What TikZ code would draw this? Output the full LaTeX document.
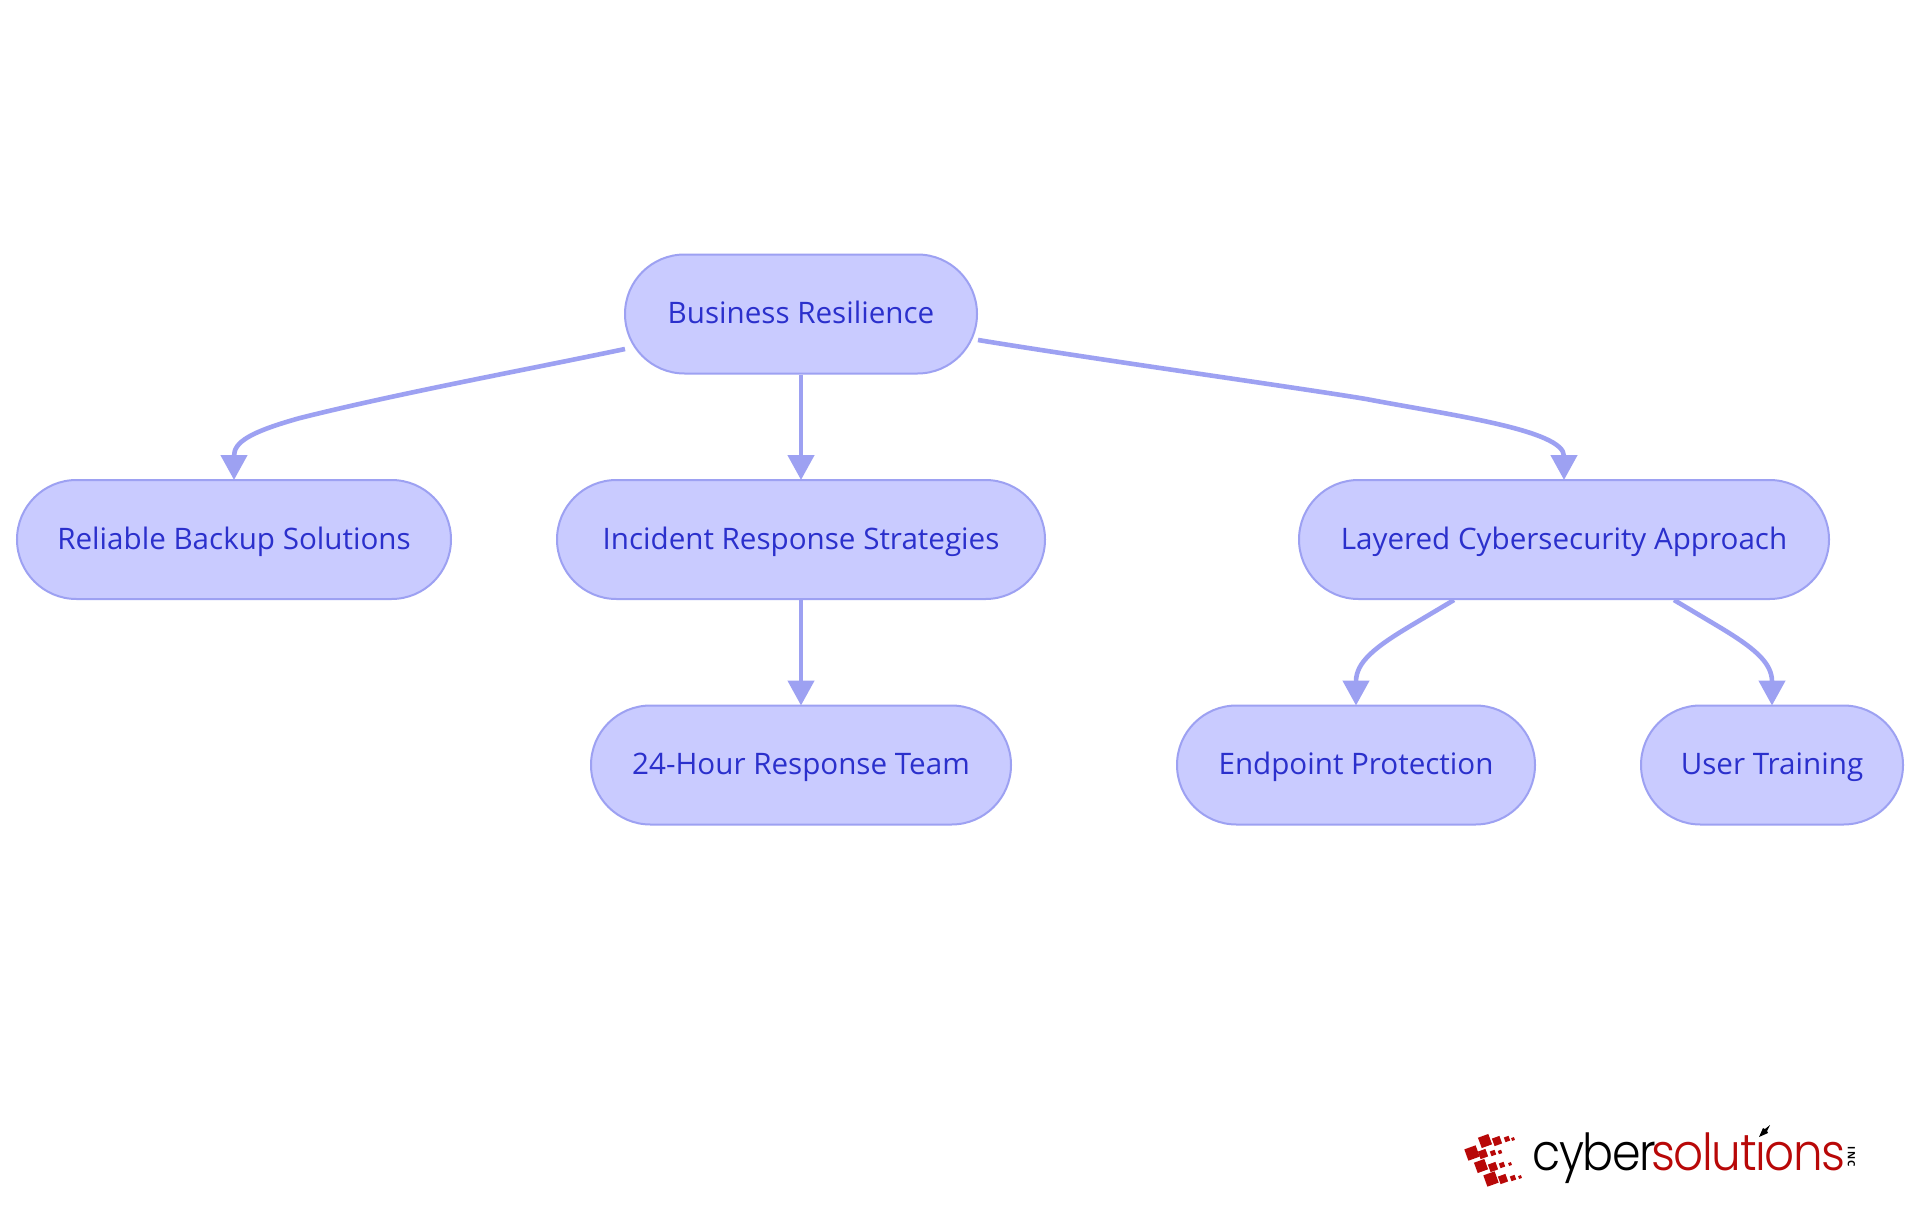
\documentclass[tikz,border=0pt]{standalone}
\usepackage{fontspec}
\usepackage{graphicx}
\setmainfont{Open Sans}
\newfontfamily\logofont{Poppins Light}
\usetikzlibrary{shapes.misc,arrows.meta,calc}
\definecolor{nodefill}{HTML}{C9CBFF}
\definecolor{nodeline}{HTML}{9DA1F2}
\definecolor{nodetext}{HTML}{2B30CC}
\definecolor{logored}{HTML}{B80808}
\tikzset{
  pill/.style={rounded rectangle,rounded rectangle arc length=180,draw=nodeline,fill=nodefill,line width=2pt,
    minimum height=119pt,inner sep=0pt,text=nodetext,font=\fontsize{29.6}{32}\selectfont,anchor=center,
    text height=26pt,text depth=7pt},
  link/.style={draw=nodeline,line width=4.6pt,shorten >=-1pt,-{Triangle[length=25pt,width=26pt,fill=nodeline]}},
  chip/.style={fill=logored,draw=none,rotate=20,inner sep=0pt,anchor=center},
  logotext/.style={anchor=base west,inner sep=0pt},
}
\begin{document}
\begin{tikzpicture}[x=1pt,y=-1pt]
\useasboundingbox (0,0) rectangle (1920,1215);
\fill[white] (0,0) rectangle (1920,1215);
\node[pill,minimum width=352pt] (biz) at (801,314) {Business Resilience};
\node[pill,minimum width=434pt] (rel) at (234,539.5) {Reliable Backup Solutions};
\node[pill,minimum width=488pt] (inc) at (801,539.5) {Incident Response Strategies};
\node[pill,minimum width=530pt] (lay) at (1564,539.5) {Layered Cybersecurity Approach};
\node[pill,minimum width=420pt] (tim) at (801,765) {24-Hour Response Team};
\node[pill,minimum width=358pt] (end) at (1356,765) {Endpoint Protection};
\node[pill,minimum width=262pt] (usr) at (1772,765) {User Training};
\coordinate (bizL) at ($(biz.west)+(1,35)$);
\coordinate (bizR) at ($(biz.east)+(0,26)$);
\coordinate (layL) at ($(lay.south)+(-110,0)$);
\coordinate (layR) at ($(lay.south)+(110,0)$);
\draw[link] (bizL) .. controls (520,371) and (400,393) .. (300,418) .. controls (250,432) and (234,442) .. (rel.north);
\draw[link] (biz.south) -- (inc.north);
\draw[link] (bizR) .. controls (1100,360) and (1300,388) .. (1366,399) .. controls (1450,415) and (1564,430) .. (lay.north);
\draw[link] (inc.south) -- (tim.north);
\draw[link] (layL) -- (1412,625) .. controls (1375,647) and (1356,662) .. (end.north);
\draw[link] (layR) -- (1716,625) .. controls (1753,647) and (1772,662) .. (usr.north);
% logo
\node[chip,minimum size=11pt] (c1) at (1485,1141) {};
\node[chip,minimum size=8pt] (c2) at (1497,1141) {};
\node[chip,minimum size=5pt] (c3) at (1507,1139) {};
\node[chip,minimum size=3pt] (c4) at (1513,1139) {};
\node[chip,minimum size=12pt] (c5) at (1472,1153) {};
\node[chip,minimum size=8pt] (c6) at (1483,1154) {};
\node[chip,minimum size=5pt] (c7) at (1493,1153) {};
\node[chip,minimum size=3.5pt] (c8) at (1500,1152) {};
\node[chip,minimum size=11pt] (c9) at (1481,1166) {};
\node[chip,minimum size=8pt] (c10) at (1493,1167) {};
\node[chip,minimum size=5pt] (c11) at (1502,1165) {};
\node[chip,minimum size=3pt] (c12) at (1510,1164) {};
\node[chip,minimum size=12pt] (c13) at (1491,1179) {};
\node[chip,minimum size=8pt] (c14) at (1503,1179) {};
\node[chip,minimum size=5pt] (c15) at (1513,1178) {};
\node[chip,minimum size=3pt] (c16) at (1520,1177) {};
\node[logotext,text=black] (cy) at (1532,1170) {\scalebox{0.9}[1]{\logofont\fontsize{51}{51}\selectfont\addfontfeatures{LetterSpace=-3}cyber}};
\node[logotext,text=logored] (so) at (1651,1170) {\scalebox{0.92}[1]{\logofont\fontsize{51}{51}\selectfont\addfontfeatures{LetterSpace=-3}solutıons}};
\node[anchor=center,rotate=-90,inner sep=0pt,text=black] (ic) at (1851.5,1157) {\fontsize{10}{10}\selectfont\addfontfeatures{LetterSpace=12}\bfseries INC};
\path[fill=black] (1770,1125) -- (1767,1131) -- (1768,1133) -- (1759,1137) -- (1763,1128) -- (1765,1129) -- cycle;
\end{tikzpicture}
\end{document}
